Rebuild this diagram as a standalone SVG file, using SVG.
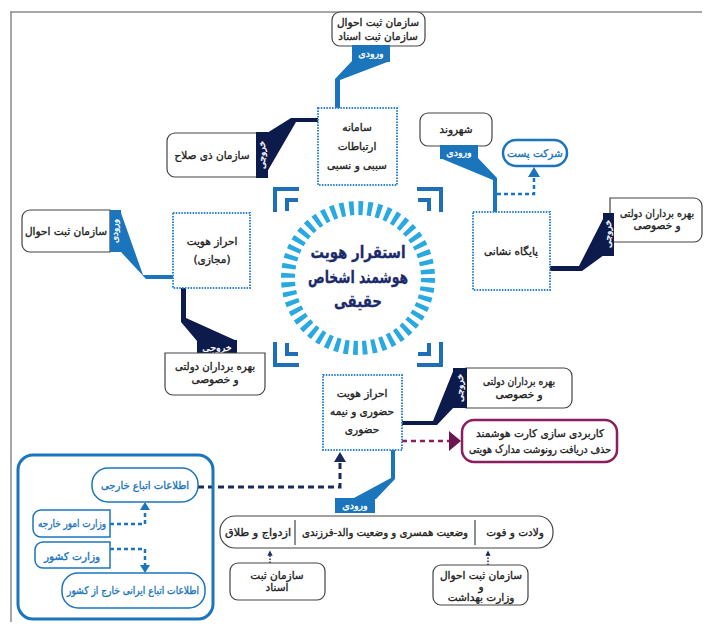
<svg xmlns="http://www.w3.org/2000/svg" width="706" height="624" viewBox="0 0 706 624">
<style>
.t{font-family:"DejaVu Sans",sans-serif;font-size:10.5px;fill:#222;stroke:#222;stroke-width:0.35;text-anchor:middle;direction:rtl}
.w{fill:#fff;stroke:#fff;font-size:9.5px}
.bl{fill:#1b75bc;stroke:#1b75bc}
.src{fill:#fff;stroke:#444;stroke-width:1.2}
.node{fill:#fff;stroke:#2a84d2;stroke-width:2;stroke-dasharray:1.5 1.3}
.in{fill:#1b75bc}
.out{fill:#0d1b4c}
.brk{fill:none;stroke:#1c6fb8;stroke-width:4}
.dashb{fill:none;stroke:#1b75bc;stroke-width:2.5;stroke-dasharray:4 3}
.dashn{fill:none;stroke:#1b2a5e;stroke-width:3;stroke-dasharray:6 4}
.dot{fill:none;stroke:#1b2a5e;stroke-width:1.5;stroke-dasharray:1.5 1.5}
.c{font-size:17px;font-weight:bold;fill:#1b2a6b;stroke:#1b2a6b;stroke-width:0.3}
</style>
<defs>
<marker id="an" viewBox="0 0 10 10" refX="5" refY="5" markerWidth="3.5" markerHeight="3.5" orient="auto"><path d="M0,0L10,5L0,10z" fill="#1b2a5e"/></marker>
</defs>
<rect width="706" height="624" fill="#fff"/>
<g id="frame" fill="none" stroke="#8a8a8a" stroke-width="1.5">
<path d="M10,12H702M11,12V622"/>
</g>

<g id="connectors">
<polygon class="in" points="352,61 390,61 340,80 340,108 335,108 335,79"/>
<polygon class="out" points="267,133 291,118 318,118 318,122 296,122 267,172"/>
<polygon class="in" points="440,158 478,158 497,178 497,212 493,212 493,180"/>
<path class="dashb" d="M497,194H534V176"/>
<polygon fill="#1b75bc" points="528,177 534,167 540,177"/>
<polygon class="out" points="604,217 604,255 582,271 550,271 550,266 579,266"/>
<polygon class="in" points="121,213 121,252 146,279 173,279 173,275 143,275"/>
<polygon class="out" points="181,288 186,288 186,318 237,341 197,341 181,322"/>
<polygon class="out" points="402,421 433,421 454,369 454,407 437,425 402,425"/>
<path d="M402,441H450" fill="none" stroke="#8b1e5f" stroke-width="2.5" stroke-dasharray="5 4"/>
<polygon fill="#6b1650" points="449,431 461,441 449,451"/>
<polygon class="in" points="391,450 395,450 395,479 376,499 352,499 391,478"/>
<path class="dashn" d="M198,487H340V462"/>
<polygon fill="#1b2a5e" points="334,462 340,452 346,462"/>
<path class="dot" d="M270,563V553" marker-end="url(#an)"/>
<path class="dot" d="M488,565V553" marker-end="url(#an)"/>
<path class="dashb" d="M110,524H145V509"/>
<polygon fill="#1b75bc" points="140,510 145,502 150,510"/>
<path class="dashb" d="M110,549H145V565"/>
<polygon fill="#1b75bc" points="140,565 145,573 150,565"/>
</g>

<g id="center">
<circle cx="358" cy="278" r="70" fill="none" stroke="#29a9e1" stroke-width="14" stroke-dasharray="4.6 4.56"/>
<path class="brk" d="M275,212V189H299M441,212V189H417M275,342V365H299M441,342V365H417"/>
<path class="brk" stroke-width="3" d="M287,211V200H298M429,211V200H418M287,343V354H298M429,343V354H418"/>
<text class="t c" x="358" y="258" textLength="95" lengthAdjust="spacingAndGlyphs">استقرار هویت</text>
<text class="t c" x="358" y="283" textLength="100" lengthAdjust="spacingAndGlyphs">هوشمند اشخاص</text>
<text class="t c" x="358" y="307" textLength="48" lengthAdjust="spacingAndGlyphs">حقیقی</text>
</g>

<g id="src-top">
<rect class="src" x="332" y="12" width="93" height="34" rx="8"/>
<text class="t" x="378" y="26">سازمان ثبت احوال</text>
<text class="t" x="378" y="40">سازمان ثبت اسناد</text>
<rect class="in" x="352" y="45" width="38" height="17"/>
<text class="t w" x="371" y="57">ورودی</text>
</g>

<g id="node-sababi">
<rect class="node" x="318" y="108" width="79" height="77"/>
<text class="t" x="357" y="131">سامانه</text>
<text class="t" x="357" y="150">ارتباطات</text>
<text class="t" x="357" y="169">سببی و نسبی</text>
</g>

<g id="out-zisalah">
<path class="src" d="M257,133H175A8,8 0 0 0 167,141V169A8,8 0 0 0 175,177H257Z"/>
<text class="t" x="212" y="159">سازمان ذی صلاح</text>
<rect class="out" x="256" y="132" width="12" height="46"/>
<text class="t w" style="font-size:9px" transform="translate(265,155) rotate(-90)">خروجی</text>
</g>

<g id="src-shahrvand">
<rect class="src" x="420" y="113" width="72" height="33" rx="8"/>
<text class="t" x="456" y="133">شهروند</text>
<rect class="in" x="440" y="145" width="38" height="14"/>
<text class="t w" x="459" y="156">ورودی</text>
</g>

<g id="post">
<rect x="503" y="140" width="64" height="26" rx="13" fill="#fff" stroke="#1b75bc" stroke-width="2.5"/>
<text class="t bl" x="535" y="157">شرکت  پست</text>
</g>

<g id="node-neshani">
<rect class="node" x="473" y="212" width="77" height="78"/>
<text class="t" x="511" y="255">پایگاه نشانی</text>
</g>

<g id="out-right">
<path class="src" d="M610,198H694A8,8 0 0 1 702,206V234A8,8 0 0 1 694,242H610Z"/>
<text class="t" x="657" y="217" textLength="74" lengthAdjust="spacingAndGlyphs">بهره برداران  دولتی</text>
<text class="t" x="657" y="229">و خصوصی</text>
<rect class="out" x="603" y="213" width="11" height="43"/>
<text class="t w" style="font-size:9px" transform="translate(611,234) rotate(-90)">خروجی</text>
</g>

<g id="src-left">
<path class="src" d="M110,210H30A8,8 0 0 0 22,218V244A8,8 0 0 0 30,252H110Z"/>
<text class="t" x="66" y="235">سازمان ثبت احوال</text>
<rect class="in" x="110" y="210" width="11" height="42"/>
<text class="t w" style="font-size:9px" transform="translate(118,231) rotate(-90)">ورودی</text>
</g>

<g id="node-majazi">
<rect class="node" x="173" y="213" width="77" height="75"/>
<text class="t" x="212" y="245">احراز هویت</text>
<text class="t" x="212" y="263">(مجازی)</text>
</g>

<g id="out-left">
<rect class="out" x="197" y="340" width="40" height="14"/>
<text class="t w" x="217" y="351">خروجی</text>
<path class="src" d="M165,353H265V387A8,8 0 0 1 257,395H173A8,8 0 0 1 165,387Z"/>
<text class="t" x="215" y="370" textLength="80" lengthAdjust="spacingAndGlyphs">بهره برداران  دولتی</text>
<text class="t" x="215" y="383">و خصوصی</text>
</g>

<g id="node-hozuri">
<rect class="node" x="323" y="375" width="79" height="75"/>
<text class="t" x="362" y="397">احراز هویت</text>
<text class="t" x="362" y="415">حضوری و نیمه</text>
<text class="t" x="362" y="433">حضوری</text>
</g>

<g id="out-hozuri">
<path class="src" d="M466,368H564A8,8 0 0 1 572,376V400A8,8 0 0 1 564,408H466Z"/>
<text class="t" x="519" y="385" textLength="72" lengthAdjust="spacingAndGlyphs">بهره برداران  دولتی</text>
<text class="t" x="519" y="398">و خصوصی</text>
<rect class="out" x="453" y="368" width="14" height="40"/>
<text class="t w" style="font-size:9px" transform="translate(463,388) rotate(-90)">خروجی</text>
</g>

<g id="smart-card">
<rect x="462" y="420" width="155" height="42" rx="12" fill="#fff" stroke="#8b1e5f" stroke-width="2.5"/>
<text class="t" x="540" y="437" textLength="128" lengthAdjust="spacingAndGlyphs">کاربردی سازی کارت هوشمند</text>
<text class="t" x="540" y="453" textLength="142" lengthAdjust="spacingAndGlyphs">حذف دریافت رونوشت مدارک هویتی</text>
</g>

<g id="bottom-bar">
<rect class="in" x="335" y="498" width="40" height="15"/>
<text class="t w" x="355" y="509">ورودی</text>
<rect class="src" x="220" y="516" width="333" height="32" rx="15"/>
<path d="M295,520V545M475,520V545" stroke="#444" stroke-width="1.2"/>
<text class="t" x="258" y="536" textLength="66" lengthAdjust="spacingAndGlyphs">ازدواج و طلاق</text>
<text class="t" x="385" y="536" textLength="166" lengthAdjust="spacingAndGlyphs">وضعیت همسری و وضعیت والد-فرزندی</text>
<text class="t" x="515" y="536">ولادت و فوت</text>
</g>

<g id="src-asnad">
<rect class="src" x="230" y="563" width="95" height="37" rx="8"/>
<text class="t" x="277" y="579">سازمان ثبت</text>
<text class="t" x="277" y="591">اسناد</text>
</g>

<g id="src-ahval-behdasht">
<rect class="src" x="433" y="565" width="95" height="40" rx="8"/>
<text class="t" x="481" y="579">سازمان ثبت احوال</text>
<text class="t" x="481" y="590">و</text>
<text class="t" x="481" y="601">وزارت بهداشت</text>
</g>

<g id="foreign-group">
<rect x="18" y="455" width="195" height="164" rx="15" fill="none" stroke="#1b75bc" stroke-width="3"/>
<rect x="92" y="468" width="106" height="34" rx="16" fill="#fff" stroke="#1b75bc" stroke-width="1.5"/>
<text class="t bl" x="145" y="489" textLength="88" lengthAdjust="spacingAndGlyphs">اطلاعات اتباع  خارجی</text>
<path d="M110,510H41A8,8 0 0 0 33,518V529A8,8 0 0 0 41,537H110Z" fill="#fff" stroke="#1b75bc" stroke-width="1.5"/>
<text class="t bl" x="72" y="527" textLength="68" lengthAdjust="spacingAndGlyphs">وزارت امور خارجه</text>
<path d="M110,542H43A8,8 0 0 0 35,550V560A8,8 0 0 0 43,568H110Z" fill="#fff" stroke="#1b75bc" stroke-width="1.5"/>
<text class="t bl" x="72" y="560">وزارت  کشور</text>
<rect x="62" y="573" width="143" height="35" rx="16" fill="#fff" stroke="#1b75bc" stroke-width="1.5"/>
<text class="t bl" x="133" y="594" textLength="132" lengthAdjust="spacingAndGlyphs">اطلاعات اتباع ایرانی خارج از کشور</text>
</g>
</svg>
